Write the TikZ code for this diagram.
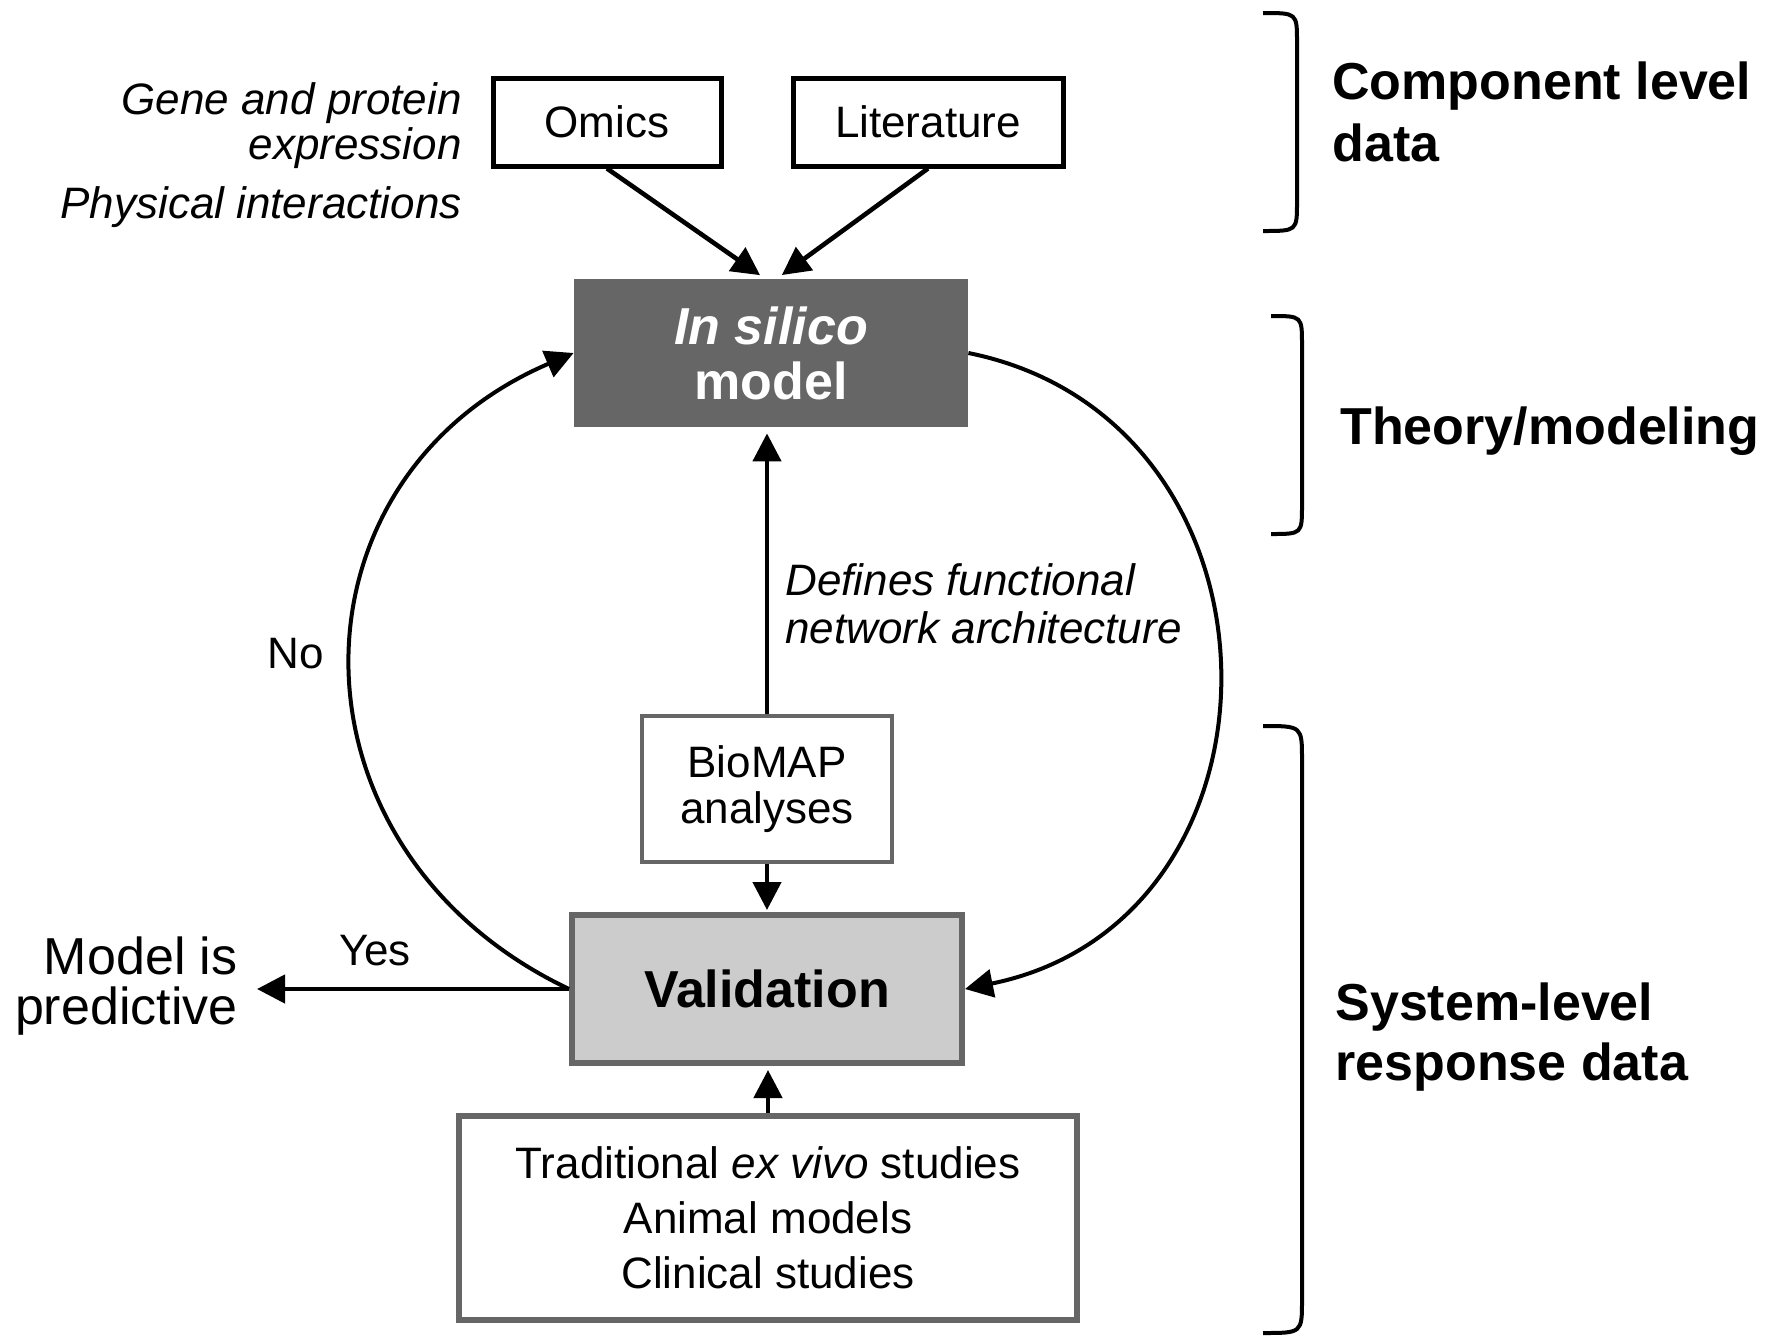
\documentclass[tikz,border=0pt]{standalone}
\usepackage{fontspec}
\setmainfont{Liberation Sans}
\usetikzlibrary{arrows.meta}
\definecolor{dkgray}{HTML}{666666}
\definecolor{ltgray}{HTML}{CCCCCC}
\tikzset{
  box/.style={draw,line width=2.5pt,inner sep=0pt,align=center,font=\fontsize{22}{27}\selectfont},
  graybox/.style={box,draw=dkgray},
  arr/.style={line width=2.3pt,-{Triangle[length=14pt,width=14pt]}},
  loop/.style={line width=2pt,-{Triangle[length=14pt,width=14pt]}},
  brace/.style={line width=2pt},
  lbl/.style={inner sep=0pt,align=left,font=\bfseries\fontsize{26}{30}\selectfont},
  note/.style={inner sep=0pt,font=\itshape\fontsize{22}{22.5}\selectfont},
}
\begin{document}
\begin{tikzpicture}[x=.5pt,y=-.5pt]
  \useasboundingbox (0,0) rectangle (1769,1340);
  % data sources
  \node[box,minimum width=114pt,minimum height=44pt] (omics) at (607,122) {Omics};
  \node[box,minimum width=135pt,minimum height=44pt] (lit) at (928,122) {Literature};
  \node[note,anchor=north east,align=right] (gene) at (462,82) {Gene and protein\\expression};
  \node[note,anchor=north east] (phys) at (462,186) {Physical interactions};
  % model
  \node[inner sep=0pt,fill=dkgray,text=white,align=center,minimum width=197pt,minimum height=74pt,
    font=\bfseries\fontsize{26}{27.5}\selectfont] (model) at (771,353) {\textit{In silico}\\model};
  \draw[arr,shorten >=3pt] (omics.south) -- ([xshift=-3pt]model.north);
  \draw[arr,shorten >=3pt] (lit.south) -- ([xshift=3pt]model.north);
  % biomap
  \node[graybox,line width=2pt,minimum width=125pt,minimum height=73pt,font=\fontsize{22}{23}\selectfont] (bio) at (767,789) {BioMAP\\analyses};
  \draw[arr,shorten >=3pt] (bio.north) -- (bio.north |- model.south);
  \node[note,anchor=north west,align=left,font=\itshape\fontsize{22}{24}\selectfont] (defn) at (785,563)
    {Defines functional\\network architecture};
  % validation
  \node[graybox,line width=3pt,fill=ltgray,minimum width=195pt,minimum height=74pt,
    font=\bfseries\fontsize{26}{30}\selectfont] (val) at (767,989) {Validation};
  \draw[arr,shorten >=1pt] (bio.south) -- (bio.south |- val.north);
  \node[graybox,line width=3pt,minimum width=309pt,minimum height=102pt,font=\fontsize{22}{27.5}\selectfont] (src) at (768,1218)
    {Traditional \textit{ex vivo} studies\\Animal models\\Clinical studies};
  \draw[arr,shorten >=2pt] (src.north) -- (src.north |- val.south);
  % loops
  \draw[loop] (val.west) .. controls +(-292,-139) and +(-294,126) .. (model.west);
  \draw[loop] (model.east) .. controls +(332,67) and +(338,-69) .. (val.east);
  \node[font=\fontsize{22}{27}\selectfont,inner sep=0pt] (no) at (296,654) {No};
  \node[font=\fontsize{22}{27}\selectfont,inner sep=0pt] (yes) at (375,951) {Yes};
  \node[inner sep=0pt,anchor=east,align=right,font=\fontsize{26}{25}\selectfont] (pred) at (238,986) {Model is\\predictive};
  \coordinate (predend) at (257,989);
  \draw[arr] (val.west) -- (predend);
  % braces
  \draw[brace] (1263,13) .. controls (1297,13) .. (1297,42) -- (1297,202) .. controls (1297,231) .. (1263,231);
  \draw[brace] (1271,316) .. controls (1302,316) .. (1302,345) -- (1302,505) .. controls (1302,534) .. (1271,534);
  \draw[brace] (1263,726) .. controls (1302,726) .. (1302,760) -- (1302,1300) .. controls (1302,1333) .. (1263,1333);
  \node[lbl,anchor=north west,font=\bfseries\fontsize{26}{31}\selectfont] (comp) at (1332,61) {Component level\\data};
  \node[lbl,anchor=north west] (theo) at (1340,406) {Theory/modeling};
  \node[lbl,anchor=north west] (sys) at (1335,982) {System-level\\response data};
\end{tikzpicture}
\end{document}
